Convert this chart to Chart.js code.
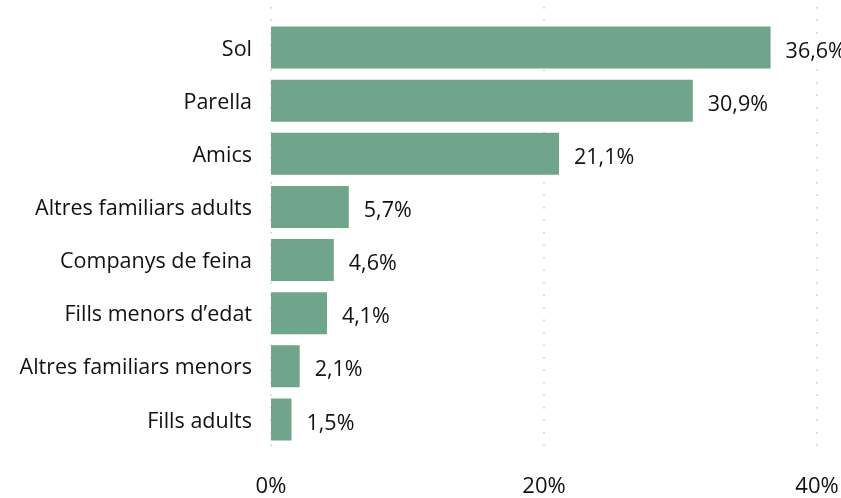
<!DOCTYPE html>
<html>
<head>
<meta charset="utf-8">
<script src="https://cdn.jsdelivr.net/npm/chart.js@4"></script>
<style>
  html,body{margin:0;padding:0;background:#fff;}
  #wrap{width:841px;height:498px;}
</style>
</head>
<body>
<div id="wrap"><canvas id="chart" width="841" height="498"></canvas></div>
<script>
// Data
const categories=["Sol","Parella","Amics","Altres familiars adults","Companys de feina","Fills menors d\u2019edat","Altres familiars menors","Fills adults"];
const values=[36.6,30.9,21.1,5.7,4.6,4.1,2.1,1.5];
const xTicks=[0,20,40];

const FONT="'Open Sans', sans-serif";
const FSIZE=21.5;
const fmt=v=>v.toFixed(1).replace(".",",")+"%";

// dotted gridlines that reach a bit past the plot area
const dottedGrid={
  id:"dottedGrid",
  beforeDatasetsDraw(chart){
    const {ctx,chartArea,scales:{x}}=chart;
    ctx.save();
    ctx.strokeStyle="#c9c9c9";
    ctx.lineWidth=1.5;
    ctx.setLineDash([1.5,11]);
    xTicks.forEach(t=>{
      const px=Math.round(x.getPixelForValue(t));
      ctx.beginPath();
      ctx.moveTo(px,chartArea.top-14);
      ctx.lineTo(px,chartArea.bottom+10);
      ctx.stroke();
    });
    ctx.restore();
  }
};

// value labels at bar ends
const barLabels={
  id:"barLabels",
  afterDatasetsDraw(chart){
    const {ctx}=chart;
    const meta=chart.getDatasetMeta(0);
    ctx.save();
    ctx.font=FSIZE+"px "+FONT;
    ctx.fillStyle="#111";
    ctx.textAlign="left";
    ctx.textBaseline="middle";
    meta.data.forEach((bar,i)=>{
      ctx.fillText(fmt(values[i]),bar.x+15,bar.y+4);
    });
    ctx.restore();
  }
};

const noPad=s=>{s.paddingLeft=0;s.paddingRight=0;s.paddingTop=0;s.paddingBottom=0;};

new Chart(document.getElementById("chart"),{
  type:"bar",
  data:{labels:categories,datasets:[{data:values,backgroundColor:"#6fa58b",categoryPercentage:1,barPercentage:0.79}]},
  options:{
    indexAxis:"y",
    responsive:false,
    animation:false,
    layout:{padding:{top:21,right:24,bottom:0,left:0}},
    plugins:{legend:{display:false},tooltip:{enabled:false}},
    scales:{
      x:{
        min:0,max:40,
        afterBuildTicks(s){s.ticks=xTicks.map(v=>({value:v}));},
        afterFit(s){s.height=52;noPad(s);},
        grid:{display:false,drawTicks:false},
        border:{display:false},
        ticks:{padding:28,color:"#111",font:{family:FONT,size:22},callback:v=>v+"%"}
      },
      y:{
        afterFit(s){s.width=271;noPad(s);},
        grid:{display:false,drawTicks:false},
        border:{display:false},
        ticks:{padding:19,labelOffset:2,color:"#111",font:{family:FONT,size:FSIZE}}
      }
    }
  },
  plugins:[dottedGrid,barLabels]
});
</script>
</body>
</html>
